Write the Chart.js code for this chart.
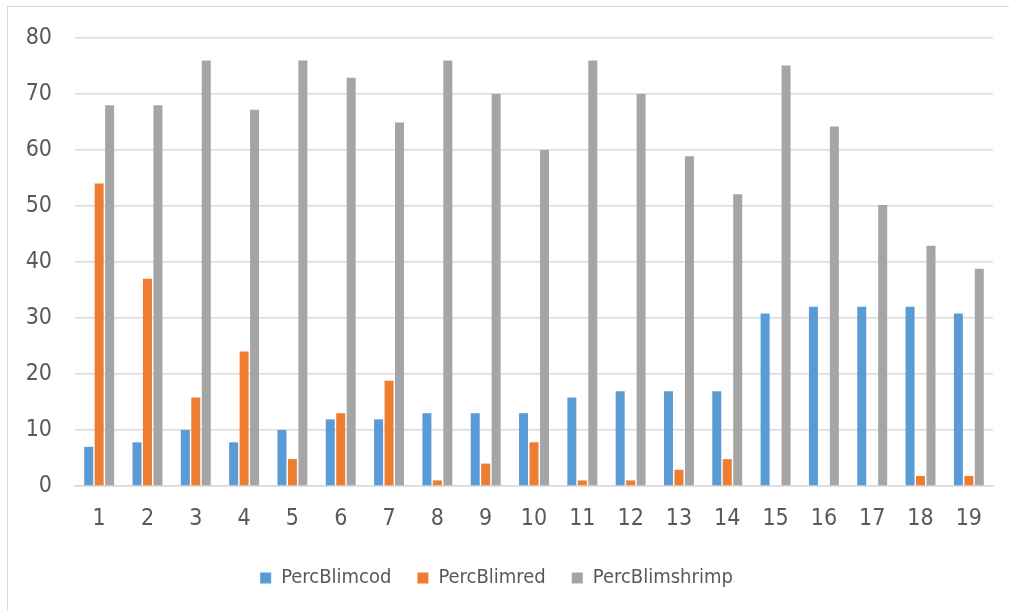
<!DOCTYPE html>
<html>
<head>
<meta charset="utf-8">
<script src="https://cdn.jsdelivr.net/npm/chart.js@4.4.1/dist/chart.umd.min.js"></script>
<style>
  html, body { margin: 0; padding: 0; background: #fff; }
  #wrap { position: relative; width: 1009px; height: 611px; overflow: hidden; }
  #frame { position: absolute; left: 7px; top: 6px; width: 1100px; height: 700px;
           border-top: 1.5px solid #d9d9d9; border-left: 1.5px solid #d9d9d9; }
  canvas { position: absolute; left: 0; top: 0; }
</style>
</head>
<body>
<div id="wrap">
  <div id="frame"></div>
  <canvas id="c" width="1009" height="611"></canvas>
</div>
<script>
const categories = ["1","2","3","4","5","6","7","8","9","10","11","12","13","14","15","16","17","18","19"];
const percBlimcod = [7, 7.8, 10, 7.8, 10, 11.9, 11.9, 13, 13, 13, 15.8, 16.9, 16.9, 16.9, 30.8, 32, 32, 32, 30.8];
const percBlimred = [54, 37, 15.8, 24, 4.8, 13, 18.8, 1, 4, 7.8, 1, 1, 2.9, 4.8, 0, 0, 0, 1.8, 1.8];
const percBlimshrimp = [68, 68, 76, 67.2, 76, 72.9, 64.9, 76, 70, 60, 76, 70, 58.9, 52.1, 75.1, 64.2, 50.2, 42.9, 38.8];
const yTicks = [0, 10, 20, 30, 40, 50, 60, 70, 80];

const FONT = "'Liberation Sans Narrow', 'DejaVu Sans Condensed', 'Liberation Sans', sans-serif";
const TEXT = '#595959';

new Chart(document.getElementById('c'), {
  type: 'bar',
  data: {
    labels: categories,
    datasets: [
      { label: 'PercBlimcod', data: percBlimcod, backgroundColor: '#5B9BD5' },
      { label: 'PercBlimred', data: percBlimred, backgroundColor: '#ED7D31' },
      { label: 'PercBlimshrimp', data: percBlimshrimp, backgroundColor: '#A5A5A5' }
    ]
  },
  options: {
    responsive: false,
    animation: false,
    devicePixelRatio: 1,
    datasets: { bar: { categoryPercentage: 0.65, barPercentage: 0.86, borderWidth: 0 } },
    layout: { padding: { top: 38, right: 16, bottom: 13, left: 0 } },
    plugins: {
      tooltip: { enabled: false },
      legend: {
        position: 'bottom',
        labels: {
          color: TEXT,
          font: { family: FONT, size: 20 },
          boxWidth: 11, boxHeight: 11,
          padding: 26
        }
      }
    },
    scales: {
      x: {
        grid: { display: false, drawTicks: false },
        border: { display: true, color: '#d9d9d9', width: 1.5 },
        ticks: { color: TEXT, font: { family: FONT, size: 23 }, padding: 19 },
        afterFit: (s) => { s.height = 56; }
      },
      y: {
        min: 0, max: 80,
        afterBuildTicks: (s) => { s.ticks = yTicks.map(v => ({ value: v })); },
        grid: { color: '#d9d9d9', lineWidth: 1.5, drawTicks: false },
        border: { display: false },
        ticks: { color: TEXT, font: { family: FONT, size: 23 }, padding: 23 },
        afterFit: (s) => { s.width = 75; }
      }
    }
  }
});
</script>
</body>
</html>
